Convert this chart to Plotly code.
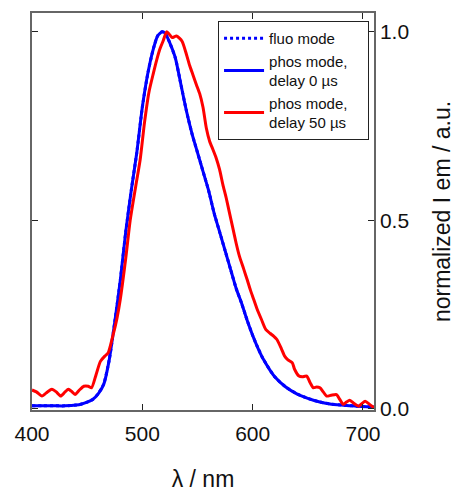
import plotly.graph_objects as go

# Wavelengths (nm) and normalized intensities
blue_x = [400, 410, 420, 430, 440, 445, 450, 455, 460, 465, 470, 475, 480, 485, 490,
          495, 500, 505, 510, 514, 518, 521, 525, 530, 535, 540, 545, 550, 555, 560,
          565, 570, 575, 580, 585, 590, 595, 600, 605, 610, 620, 630, 640, 650, 660,
          670, 680, 690, 700, 710]
phos0_y = [0.008, 0.008, 0.008, 0.008, 0.010, 0.013, 0.018, 0.025, 0.040, 0.065, 0.13,
           0.23, 0.34, 0.47, 0.58, 0.68, 0.80, 0.89, 0.955, 0.99, 1.0, 0.995, 0.97, 0.93,
           0.86, 0.79, 0.73, 0.68, 0.63, 0.58, 0.52, 0.47, 0.42, 0.37, 0.32, 0.28, 0.235,
           0.195, 0.16, 0.13, 0.085, 0.058, 0.040, 0.028, 0.019, 0.013, 0.010, 0.008,
           0.006, 0.005]
fluo_y = [0.008, 0.008, 0.008, 0.008, 0.010, 0.013, 0.018, 0.025, 0.040, 0.066, 0.13,
          0.23, 0.34, 0.47, 0.58, 0.68, 0.80, 0.89, 0.955, 0.99, 1.0, 0.995, 0.97, 0.93,
          0.86, 0.79, 0.73, 0.68, 0.63, 0.58, 0.52, 0.47, 0.42, 0.37, 0.32, 0.28, 0.235,
          0.195, 0.16, 0.13, 0.085, 0.058, 0.040, 0.028, 0.019, 0.013, 0.010, 0.008,
          0.006, 0.005]

red_x = [400, 404, 409, 414, 418, 422, 426, 430, 433, 436, 439, 443, 447, 451, 454, 458,
         462, 466, 469, 473, 477, 480, 485, 489, 494, 498, 502, 506, 510, 513, 516, 519,
         522, 524, 527, 531, 536, 540, 543, 546, 549, 552, 555, 558, 561, 564, 567, 570,
         573, 576, 579, 582, 585, 588, 592, 595, 598, 601, 604, 608, 612, 616, 619, 622,
         626, 629, 632, 636, 638, 642, 645, 649, 652, 655, 658, 661, 664, 667, 671, 676,
         679, 682, 685, 688, 692, 696, 699, 702, 706, 710]
red_y = [0.05, 0.045, 0.034, 0.045, 0.052, 0.045, 0.034, 0.045, 0.052, 0.046, 0.038,
         0.05, 0.06, 0.06, 0.056, 0.09, 0.126, 0.14, 0.148, 0.19, 0.24, 0.29, 0.40, 0.50,
         0.59, 0.66, 0.76, 0.84, 0.89, 0.925, 0.955, 0.977, 1.0, 0.995, 0.985, 0.989,
         0.975, 0.94, 0.91, 0.885, 0.86, 0.836, 0.80, 0.745, 0.71, 0.688, 0.665, 0.635,
         0.595, 0.56, 0.52, 0.48, 0.44, 0.405, 0.37, 0.343, 0.315, 0.29, 0.265, 0.237,
         0.21, 0.20, 0.193, 0.184, 0.16, 0.14, 0.13, 0.122, 0.105, 0.087, 0.085, 0.087,
         0.07, 0.056, 0.058, 0.056, 0.045, 0.034, 0.036, 0.038, 0.025, 0.012, 0.018,
         0.023, 0.014, 0.007, 0.014, 0.02, 0.012, 0.003]

FONT = "Liberation Sans, Arial, sans-serif"
NB = "\u00a0"

fig = go.Figure()
fig.add_trace(go.Scatter(x=blue_x, y=phos0_y, mode="lines", name="phos mode,<br>delay 0 µs",
                         line=dict(color="#0000ff", width=3, shape="spline", smoothing=0.6),
                         legendrank=2))
fig.add_trace(go.Scatter(x=blue_x, y=fluo_y, mode="lines", name="fluo mode",
                         line=dict(color="#0000ff", width=3, dash="dot", shape="spline",
                                   smoothing=0.6),
                         legendrank=1))
fig.add_trace(go.Scatter(x=red_x, y=red_y, mode="lines",
                         name="phos mode,<br>delay 50 µs" + NB * 4,
                         line=dict(color="#ff0000", width=3, shape="spline", smoothing=0.6),
                         legendrank=3))

fig.update_xaxes(range=[400, 710], tickvals=[400, 500, 600, 700], ticks="inside", ticklen=6,
                 tickcolor="#222", showline=True, mirror="allticks", linecolor="#666",
                 linewidth=1.5, showgrid=False, zeroline=False, ticklabelstandoff=4,
                 automargin=False,
                 tickfont=dict(size=21, color="#111"),
                 title=dict(text="λ / nm", font=dict(size=23, color="#111"), standoff=28))
fig.update_yaxes(range=[-0.003, 1.05], side="right", tickvals=[0, 0.5, 1.0],
                 ticktext=["0.0", "0.5", "1.0"], ticks="inside", ticklen=6, tickcolor="#222",
                 showline=True, mirror="allticks", linecolor="#666", linewidth=1.5,
                 showgrid=False, zeroline=False, automargin=False,
                 tickfont=dict(size=21, color="#111"),
                 title=dict(text="normalized I em / a.u.", font=dict(size=23, color="#111"),
                            standoff=26))

fig.update_layout(
    width=461, height=492,
    margin=dict(l=32, r=87, t=13, b=82),
    paper_bgcolor="white", plot_bgcolor="white",
    font=dict(family=FONT, color="#111"),
    legend=dict(x=0.544, y=0.98, xanchor="left", yanchor="top", bgcolor="white",
                bordercolor="#222", borderwidth=1, font=dict(size=15),
                traceorder="normal", tracegroupgap=2, itemwidth=40),
    showlegend=True,
)

fig.write_html("out.html")
